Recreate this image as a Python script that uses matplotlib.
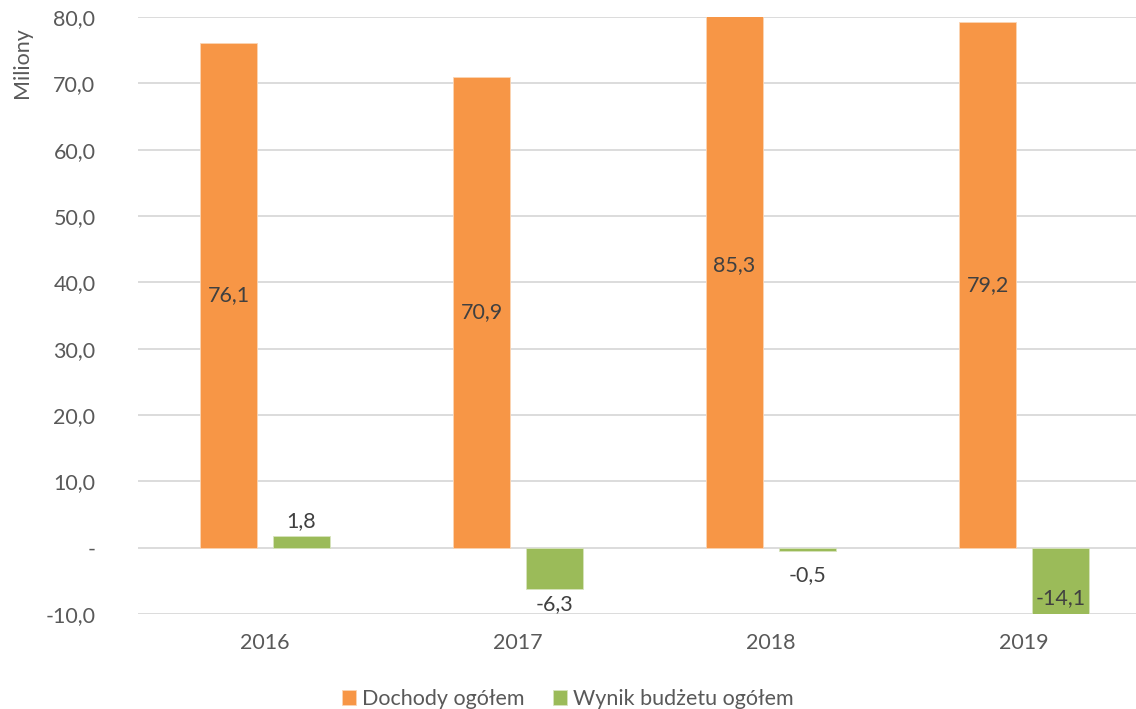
import matplotlib.pyplot as plt
import numpy as np
from matplotlib.ticker import FuncFormatter

# dane
lata = ["2016", "2017", "2018", "2019"]
dochody = [76.1, 70.9, 85.3, 79.2]
wynik = [1.8, -6.3, -0.5, -14.1]
seria = ["Dochody ogółem", "Wynik budżetu ogółem"]

plt.rcParams['font.family'] = ['Lato', 'DejaVu Sans']
txt = '#595959'
lab = '#404040'
pomar = '#F79646'
ziel = '#9BBB59'
fs = 15.5

fig = plt.figure(figsize=(11.36, 7.09), dpi=100)
ax = fig.add_axes([0.1219, 0.134, 0.8908, 0.842])

x = np.arange(len(lata))
w = 0.225
off = 0.144
ymin, ymax = -10, 80

b1 = ax.bar(x - off, dochody, w, color=pomar, edgecolor='#FBD5B5', linewidth=0.6, zorder=2, label=seria[0])
b2 = ax.bar(x + off, wynik, w, color=ziel, edgecolor='#D7E4BD', linewidth=0.6, zorder=2, label=seria[1])

def fmt(v):
    return f"{v:.1f}".replace('.', ',')

# etykiety - dochody na środku słupka
for xi, v in zip(x - off, dochody):
    ax.text(xi, v / 2, fmt(v), ha='center', va='center', fontsize=fs, color=lab, zorder=3)

# etykiety - wynik na końcu słupka
for xi, v in zip(x + off, wynik):
    if v < ymin:
        ax.annotate(fmt(v), (xi, ymin), xytext=(0, 4), textcoords='offset points',
                    ha='center', va='bottom', fontsize=fs, color=lab, zorder=3)
    elif v >= 0:
        ax.annotate(fmt(v), (xi, v), xytext=(0, 3), textcoords='offset points',
                    ha='center', va='bottom', fontsize=fs, color=lab, zorder=3)
    else:
        # etykieta pod słupkiem, nie bliżej niż ok. -2 od osi
        ax.annotate(fmt(v), (xi, min(v, -2.0)), xytext=(0, -3), textcoords='offset points',
                    ha='center', va='top', fontsize=fs, color=lab, zorder=3)

ax.set_xlim(-0.5, len(lata) - 0.5)
ax.set_ylim(ymin, ymax)
ax.set_yticks(np.arange(-10, 81, 10))
ax.yaxis.set_major_formatter(FuncFormatter(lambda v, p: '-' if abs(v) < 1e-9 else fmt(v)))
ax.set_xticks(x)
ax.set_xticklabels(lata)
ax.grid(axis='y', color='#D9D9D9', linewidth=1.3, zorder=0)
ax.set_axisbelow(True)
for s in ax.spines.values():
    s.set_visible(False)
ax.tick_params(axis='y', length=0, pad=31, labelsize=fs, labelcolor=txt)
ax.tick_params(axis='x', length=0, pad=14, labelsize=fs, labelcolor=txt)

fig.text(0.0194, 0.962, "Miliony", rotation=90, ha='center', va='top', fontsize=fs, color=txt)

fig.legend(handles=[b1, b2], loc='center', bbox_to_anchor=(0.5, 0.014), ncol=2, frameon=False,
           fontsize=fs, labelcolor=txt, handlelength=0.65, handleheight=0.65, handletextpad=0.3,
           columnspacing=1.3)

fig.savefig('out.png', dpi=100)
